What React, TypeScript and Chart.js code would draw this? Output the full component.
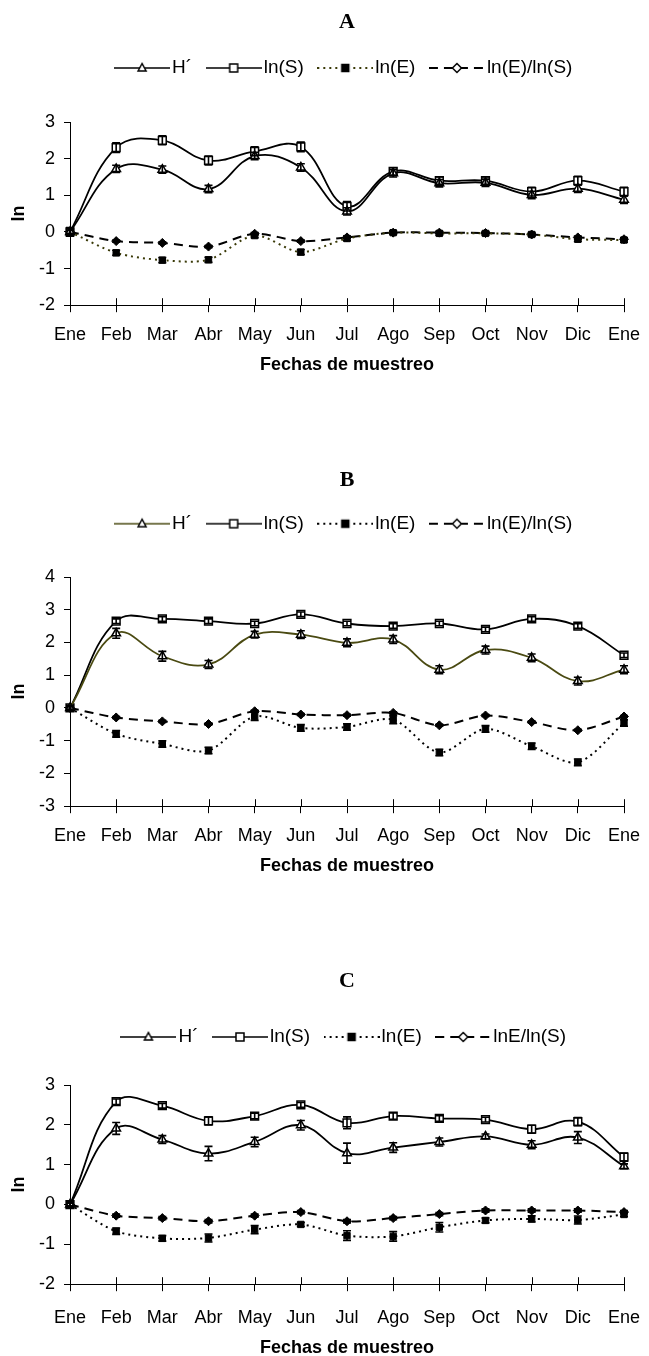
import React, { useEffect, useRef } from 'react';
import { Chart, registerables } from 'chart.js';

Chart.register(...registerables);

// ---------- data ----------
const months = ['Ene', 'Feb', 'Mar', 'Abr', 'May', 'Jun', 'Jul', 'Ago', 'Sep', 'Oct', 'Nov', 'Dic', 'Ene'];

// Panel A
const namesA = ['H´', 'ln(S)', 'ln(E)', 'ln(E)/ln(S)'];
const hA = [0, 1.72, 1.7, 1.17, 2.07, 1.76, 0.56, 1.6, 1.33, 1.34, 1.01, 1.18, 0.88];
const hAErr = [0.08, 0.1, 0.1, 0.1, 0.1, 0.1, 0.1, 0.1, 0.1, 0.1, 0.1, 0.1, 0.1];
const sA = [0, 2.3, 2.5, 1.95, 2.2, 2.32, 0.7, 1.65, 1.4, 1.4, 1.1, 1.4, 1.1];
const sAErr = [0.12, 0.13, 0.12, 0.12, 0.12, 0.13, 0.13, 0.1, 0.1, 0.1, 0.12, 0.12, 0.12];
const eA = [0, -0.57, -0.77, -0.76, -0.1, -0.55, -0.18, -0.02, -0.04, -0.04, -0.07, -0.2, -0.22];
const eAErr = [0.08, 0.07, 0.07, 0.07, 0.06, 0.07, 0.06, 0.05, 0.05, 0.05, 0.05, 0.06, 0.06];
const rA = [0, -0.25, -0.3, -0.4, -0.05, -0.25, -0.15, -0.02, -0.02, -0.03, -0.07, -0.15, -0.2];
const rAErr = [0.04, 0.03, 0.03, 0.03, 0.03, 0.03, 0.03, 0.03, 0.03, 0.03, 0.03, 0.04, 0.04];

// Panel B
const namesB = ['H´', 'ln(S)', 'ln(E)', 'ln(E)/ln(S)'];
const hB = [0, 2.28, 1.58, 1.33, 2.24, 2.24, 1.99, 2.09, 1.17, 1.77, 1.53, 0.82, 1.17];
const hBErr = [0.06, 0.15, 0.15, 0.12, 0.1, 0.12, 0.12, 0.12, 0.12, 0.12, 0.12, 0.12, 0.12];
const sB = [0, 2.65, 2.72, 2.65, 2.58, 2.86, 2.58, 2.5, 2.58, 2.4, 2.72, 2.5, 1.61];
const sBErr = [0.06, 0.07, 0.07, 0.07, 0.07, 0.07, 0.07, 0.07, 0.07, 0.07, 0.07, 0.07, 0.07];
const eB = [0, -0.79, -1.1, -1.3, -0.26, -0.61, -0.58, -0.36, -1.36, -0.64, -1.17, -1.66, -0.46];
const eBErr = [0.08, 0.1, 0.1, 0.1, 0.12, 0.1, 0.1, 0.12, 0.1, 0.1, 0.1, 0.1, 0.1];
const rB = [0, -0.29, -0.41, -0.49, -0.1, -0.2, -0.22, -0.15, -0.53, -0.23, -0.43, -0.68, -0.26];
const rBErr = [0.03, 0.03, 0.03, 0.03, 0.03, 0.03, 0.03, 0.03, 0.03, 0.03, 0.03, 0.03, 0.03];

// Panel C
const namesC = ['H´', 'ln(S)', 'ln(E)', 'lnE/ln(S)'];
const hC = [0, 1.91, 1.63, 1.28, 1.57, 1.99, 1.29, 1.43, 1.57, 1.71, 1.5, 1.68, 0.96];
const hCErr = [0.06, 0.15, 0.1, 0.18, 0.12, 0.12, 0.25, 0.12, 0.1, 0.06, 0.1, 0.15, 0.06];
const sC = [0, 2.58, 2.48, 2.1, 2.22, 2.5, 2.05, 2.22, 2.16, 2.13, 1.89, 2.08, 1.19];
const sCErr = [0.06, 0.07, 0.06, 0.1, 0.07, 0.06, 0.15, 0.08, 0.07, 0.06, 0.1, 0.1, 0.1];
const eC = [0, -0.67, -0.85, -0.84, -0.63, -0.5, -0.78, -0.8, -0.57, -0.4, -0.36, -0.39, -0.25];
const eCErr = [0.06, 0.08, 0.07, 0.1, 0.1, 0.05, 0.12, 0.12, 0.12, 0.06, 0.08, 0.1, 0.05];
const rC = [0, -0.28, -0.34, -0.42, -0.28, -0.19, -0.42, -0.34, -0.24, -0.15, -0.15, -0.15, -0.19];
const rCErr = [0.03, 0.04, 0.04, 0.04, 0.04, 0.04, 0.04, 0.04, 0.04, 0.04, 0.04, 0.04, 0.04];

// ---------- helpers ----------
const SANS = '"Liberation Sans", Arial, Helvetica, sans-serif';
const SERIF = '"Liberation Serif", "Times New Roman", serif';
const OLIVE = '#4a4a12';

type Marker = 'tri' | 'sq' | 'fsq' | 'dia';

function drawMarker(ctx: CanvasRenderingContext2D, m: Marker, x: number, y: number) {
  ctx.save();
  ctx.setLineDash([]);
  ctx.lineWidth = 1.5;
  ctx.strokeStyle = '#000';
  ctx.beginPath();
  if (m === 'tri') {
    ctx.moveTo(x, y - 4.5);
    ctx.lineTo(x + 4, y + 3);
    ctx.lineTo(x - 4, y + 3);
    ctx.closePath();
    ctx.fillStyle = '#fff';
  } else if (m === 'sq') {
    ctx.rect(x - 4, y - 4, 8, 8);
    ctx.fillStyle = '#fff';
  } else if (m === 'fsq') {
    ctx.rect(x - 3.5, y - 3.5, 7, 7);
    ctx.fillStyle = '#000';
  } else {
    ctx.moveTo(x, y - 4.5);
    ctx.lineTo(x + 4.5, y);
    ctx.lineTo(x, y + 4.5);
    ctx.lineTo(x - 4.5, y);
    ctx.closePath();
    ctx.fillStyle = '#fff';
  }
  ctx.fill();
  ctx.stroke();
  ctx.restore();
}

function makeIcon(color: string, dash: number[], width: number, m: Marker): HTMLCanvasElement {
  const c = document.createElement('canvas');
  c.width = 56;
  c.height = 14;
  const ctx = c.getContext('2d')!;
  ctx.strokeStyle = color;
  ctx.lineWidth = width;
  ctx.setLineDash(dash);
  ctx.beginPath();
  ctx.moveTo(0, 7);
  ctx.lineTo(56, 7);
  ctx.stroke();
  drawMarker(ctx, m, 28, 7);
  return c;
}

const errorBarPlugin = {
  id: 'errorBarsAndTicks',
  afterDatasetsDraw(chart: any) {
    const ctx: CanvasRenderingContext2D = chart.ctx;
    const yScale = chart.scales.y;
    chart.data.datasets.forEach((ds: any, i: number) => {
      const errs: number[] | undefined = ds.errors;
      if (!errs) return;
      const meta = chart.getDatasetMeta(i);
      ctx.save();
      ctx.strokeStyle = '#000';
      ctx.lineWidth = 1.6;
      ctx.setLineDash([]);
      meta.data.forEach((pt: any, j: number) => {
        const v = ds.data[j];
        const e = errs[j];
        if (!e) return;
        const x = pt.x;
        const y1 = yScale.getPixelForValue(v + e);
        const y2 = yScale.getPixelForValue(v - e);
        ctx.beginPath();
        ctx.moveTo(x, y1);
        ctx.lineTo(x, y2);
        ctx.moveTo(x - 4, y1);
        ctx.lineTo(x + 4, y1);
        ctx.moveTo(x - 4, y2);
        ctx.lineTo(x + 4, y2);
        ctx.stroke();
      });
      ctx.restore();
    });
    // inner half of the crossing x tick marks
    const xs = chart.scales.x;
    const bottom = chart.chartArea.bottom;
    ctx.save();
    ctx.strokeStyle = '#000';
    ctx.lineWidth = 1;
    for (let i = 0; i < xs.ticks.length; i++) {
      const x = Math.round(xs.getPixelForTick(i)) + 0.5;
      ctx.beginPath();
      ctx.moveTo(x, bottom);
      ctx.lineTo(x, bottom - 7);
      ctx.stroke();
    }
    ctx.restore();
  },
};

type Panel = {
  top: number;
  height: number;
  title: string;
  titlePad: { top: number; bottom: number };
  spacer: number;
  yMin: number;
  yMax: number;
  names: string[];
  series: number[][];
  errors: number[][];
  hColor: string;
  eColor: string;
  xTickPad: number;
  xTitlePad: { top: number; bottom: number };
};

function ChartPanel({ p }: { p: Panel }) {
  const ref = useRef<HTMLCanvasElement | null>(null);
  useEffect(() => {
    if (!ref.current) return;
    const icons = [
      makeIcon(p.hColor, [], 1.6, 'tri'),
      makeIcon('#000', [], 1.6, 'sq'),
      makeIcon(p.eColor, [2, 4], 2, 'fsq'),
      makeIcon('#000', [9, 6], 2, 'dia'),
    ];
    const datasets: any[] = [
      {
        label: p.names[0], data: p.series[0], errors: p.errors[0],
        borderColor: p.hColor, borderWidth: 1.8, tension: 0.4,
        pointStyle: 'triangle', pointRadius: 5, pointBackgroundColor: '#fff',
        pointBorderColor: '#000', pointBorderWidth: 1.5,
      },
      {
        label: p.names[1], data: p.series[1], errors: p.errors[1],
        borderColor: '#000', borderWidth: 1.8, tension: 0.4,
        pointStyle: 'rect', pointRadius: 5.5, pointBackgroundColor: '#fff',
        pointBorderColor: '#000', pointBorderWidth: 1.5,
      },
      {
        label: p.names[2], data: p.series[2], errors: p.errors[2],
        borderColor: p.eColor, borderWidth: 2, borderDash: [2, 4], tension: 0.3,
        pointStyle: 'rect', pointRadius: 4.5, pointBackgroundColor: '#000',
        pointBorderColor: '#000', pointBorderWidth: 1,
      },
      {
        label: p.names[3], data: p.series[3], errors: p.errors[3],
        borderColor: '#000', borderWidth: 2, borderDash: [9, 6], tension: 0.3,
        pointStyle: 'rectRot', pointRadius: 4.5, pointBackgroundColor: '#000',
        pointBorderColor: '#000', pointBorderWidth: 1,
      },
    ];
    const chart = new Chart(ref.current, {
      type: 'line',
      data: { labels: months, datasets },
      plugins: [errorBarPlugin],
      options: {
        responsive: false,
        animation: false,
        layout: { padding: 0 },
        plugins: {
          tooltip: { enabled: false },
          title: {
            display: true,
            text: p.title,
            fullSize: false,
            color: '#000',
            font: { family: SERIF, size: 22, weight: 'bold' },
            padding: p.titlePad,
          },
          legend: {
            display: true,
            position: 'top',
            fullSize: false,
            labels: {
              usePointStyle: true,
              pointStyleWidth: 41,
              padding: 21,
              color: '#000',
              font: { family: SANS, size: 19 },
              generateLabels: (ch: any) =>
                ch.data.datasets.map((ds: any, i: number) => ({
                  text: ds.label,
                  pointStyle: icons[i],
                  fillStyle: 'transparent',
                  strokeStyle: 'transparent',
                  lineWidth: 0,
                  hidden: false,
                  datasetIndex: i,
                })),
            },
          },
          subtitle: {
            display: true,
            text: '',
            position: 'top',
            fullSize: false,
            weight: 500,
            font: { size: 10 },
            padding: { top: 0, bottom: p.spacer - 12 },
          },
        } as any,
        scales: {
          x: {
            type: 'category',
            offset: false,
            grid: { display: true, drawOnChartArea: false, drawTicks: true, tickLength: 7, color: '#000', offset: false },
            border: { display: true, color: '#000', width: 1 },
            ticks: { color: '#000', font: { family: SANS, size: 18 }, padding: p.xTickPad, maxRotation: 0, autoSkip: false },
            title: {
              display: true,
              text: 'Fechas de muestreo',
              color: '#000',
              font: { family: SANS, size: 18, weight: 'bold' },
              padding: p.xTitlePad,
            },
            afterFit: (s: any) => {
              s.paddingLeft = 0;
              s.paddingRight = 25;
            },
          },
          y: {
            min: p.yMin,
            max: p.yMax,
            grid: { display: true, drawOnChartArea: false, drawTicks: true, tickLength: 6, color: '#000' },
            border: { display: true, color: '#000', width: 1 },
            ticks: { stepSize: 1, color: '#000', font: { family: SANS, size: 18 }, padding: 9 },
            title: {
              display: true,
              text: 'ln',
              color: '#000',
              font: { family: SANS, size: 18, weight: 'bold' },
              padding: { top: 8, bottom: 0 },
            },
            afterFit: (s: any) => {
              s.width = 70;
            },
          },
        } as any,
      },
    } as any);
    return () => chart.destroy();
  }, [p]);
  return (
    <canvas
      ref={ref}
      width={649}
      height={p.height}
      style={{ position: 'absolute', left: 0, top: p.top, display: 'block' }}
    />
  );
}

const panels: Panel[] = [
  {
    top: 0, height: 380, title: 'A', titlePad: { top: 8.8, bottom: 2.3 }, spacer: 34.5,
    yMin: -2, yMax: 3, names: namesA,
    series: [hA, sA, eA, rA], errors: [hAErr, sAErr, eAErr, rAErr],
    hColor: '#000', eColor: '#3a3a08', xTickPad: 12.2, xTitlePad: { top: -3.8, bottom: 4 },
  },
  {
    top: 440, height: 441, title: 'B', titlePad: { top: 26.8, bottom: 0 }, spacer: 33.8,
    yMin: -3, yMax: 4, names: namesB,
    series: [hB, sB, eB, rB], errors: [hBErr, sBErr, eBErr, rBErr],
    hColor: OLIVE, eColor: '#000', xTickPad: 12.2, xTitlePad: { top: -3.8, bottom: 4 },
  },
  {
    top: 930, height: 429, title: 'C', titlePad: { top: 37.8, bottom: 12.3 }, spacer: 28.5,
    yMin: -2, yMax: 3, names: namesC,
    series: [hC, sC, eC, rC], errors: [hCErr, sCErr, eCErr, rCErr],
    hColor: '#000', eColor: '#000', xTickPad: 16.2, xTitlePad: { top: -7.8, bottom: 0 },
  },
];

export default function App() {
  return (
    <div
      style={{
        position: 'absolute', left: 0, top: 0, width: 649, height: 1356,
        overflow: 'hidden', background: '#fff',
      }}
    >
      {panels.map((p, i) => (
        <ChartPanel key={i} p={p} />
      ))}
    </div>
  );
}
